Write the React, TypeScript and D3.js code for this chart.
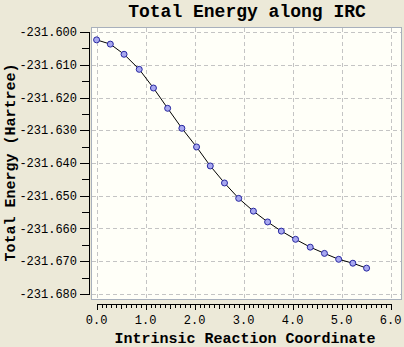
import React from "react";
import * as d3 from "d3";

const irc = [0, 0.28, 0.56, 0.87, 1.16, 1.45, 1.74, 2.04, 2.32, 2.61, 2.9, 3.2, 3.49, 3.77, 4.06, 4.36, 4.65, 4.94, 5.23, 5.51];
const energy = [
  -231.6024, -231.6037, -231.6068, -231.6114, -231.6171, -231.6233, -231.6294, -231.6351,
  -231.6409, -231.6461, -231.6508, -231.6547, -231.658, -231.6608, -231.6633, -231.6657,
  -231.6676, -231.6694, -231.6706, -231.6721,
];
const xTicks = [0, 1, 2, 3, 4, 5, 6];
const yTicks = [-231.6, -231.61, -231.62, -231.63, -231.64, -231.65, -231.66, -231.67, -231.68];
const title = "Total Energy along IRC";
const xTitle = "Intrinsic Reaction Coordinate";
const yTitle = "Total Energy (Hartree)";

const W = 404;
const H = 347;
const mono = "'Liberation Mono', 'DejaVu Sans Mono', monospace";

export default function App() {
  const x = d3.scaleLinear().domain([0, 6]).range([96.6, 390.6]);
  const y = d3.scaleLinear().domain([-231.6, -231.68]).range([32, 294]);
  const pts = irc.map((v, i) => [v, energy[i]] as [number, number]);
  const line = d3.line<[number, number]>().x((d) => x(d[0])).y((d) => y(d[1]));
  const xMinor = d3.range(0, 61).map((i) => i / 10);
  const yMinor = d3.range(0, 16).map((i) => -231.6 - 0.005 - i * 0.005).filter((v, i) => i % 2 === 0);
  const axisY = 89;
  const axisX = 304;
  return (
    <svg width={W} height={H} style={{ position: "absolute", left: 0, top: 0 }}>
      <rect x={0} y={0} width={W} height={H} fill="#ece9d8" />
      <text x={247} y={17} textAnchor="middle" fontFamily={mono} fontWeight="bold" fontSize={18} fill="#000">
        {title}
      </text>
      {/* plot frame */}
      <rect x={91.5} y={27.5} width={310} height={272} fill="#fffff8" stroke="#a8b0bc" strokeWidth={1} />
      {/* grid */}
      {xTicks.map((t) => (
        <line key={"gx" + t} x1={Math.round(x(t)) + 0.5} x2={Math.round(x(t)) + 0.5} y1={28} y2={299} stroke="#c4c4c4" strokeDasharray="4,3" />
      ))}
      {yTicks.map((t) => (
        <line key={"gy" + t} x1={92} x2={401} y1={Math.round(y(t)) + 0.5} y2={Math.round(y(t)) + 0.5} stroke="#c4c4c4" strokeDasharray="4,3" />
      ))}
      {/* data */}
      <path d={line(pts) || ""} fill="none" stroke="#000" strokeWidth={1} />
      {pts.map((d, i) => (
        <circle key={i} cx={x(d[0])} cy={y(d[1])} r={3} fill="#a8a8f0" stroke="#2828a0" strokeWidth={1} />
      ))}
      {/* y axis */}
      <line x1={axisY + 0.5} x2={axisY + 0.5} y1={Math.round(y(-231.6))} y2={Math.round(y(-231.68)) + 1} stroke="#000" />
      {yTicks.map((t) => (
        <g key={"yt" + t}>
          <line x1={80} x2={axisY + 1} y1={Math.round(y(t)) + 0.5} y2={Math.round(y(t)) + 0.5} stroke="#000" />
          <text x={77} y={y(t) + 4} textAnchor="end" fontFamily={mono} fontSize={12} fill="#000">
            {t.toFixed(3)}
          </text>
        </g>
      ))}
      {yMinor.map((t) => (
        <line key={"ym" + t} x1={82} x2={axisY + 1} y1={Math.round(y(t)) + 0.5} y2={Math.round(y(t)) + 0.5} stroke="#000" />
      ))}
      {/* x axis */}
      <line x1={Math.round(x(0))} x2={Math.round(x(6)) + 1} y1={axisX + 0.5} y2={axisX + 0.5} stroke="#000" />
      {xMinor.map((t, i) => (
        <line
          key={"xm" + i}
          x1={Math.round(x(t)) + 0.5}
          x2={Math.round(x(t)) + 0.5}
          y1={axisX}
          y2={axisX + (i % 10 === 0 ? 6 : i % 5 === 0 ? 5 : 4)}
          stroke="#000"
        />
      ))}
      {xTicks.map((t) => (
        <text key={"xl" + t} x={x(t)} y={324} textAnchor="middle" fontFamily={mono} fontSize={12} fill="#000">
          {t.toFixed(1)}
        </text>
      ))}
      <text x={245} y={343} textAnchor="middle" fontFamily={mono} fontWeight="bold" fontSize={15} fill="#000">
        {xTitle}
      </text>
      <text
        transform={`translate(15,162.5) rotate(-90)`}
        textAnchor="middle"
        fontFamily={mono}
        fontWeight="bold"
        fontSize={15}
        fill="#000"
      >
        {yTitle}
      </text>
    </svg>
  );
}
